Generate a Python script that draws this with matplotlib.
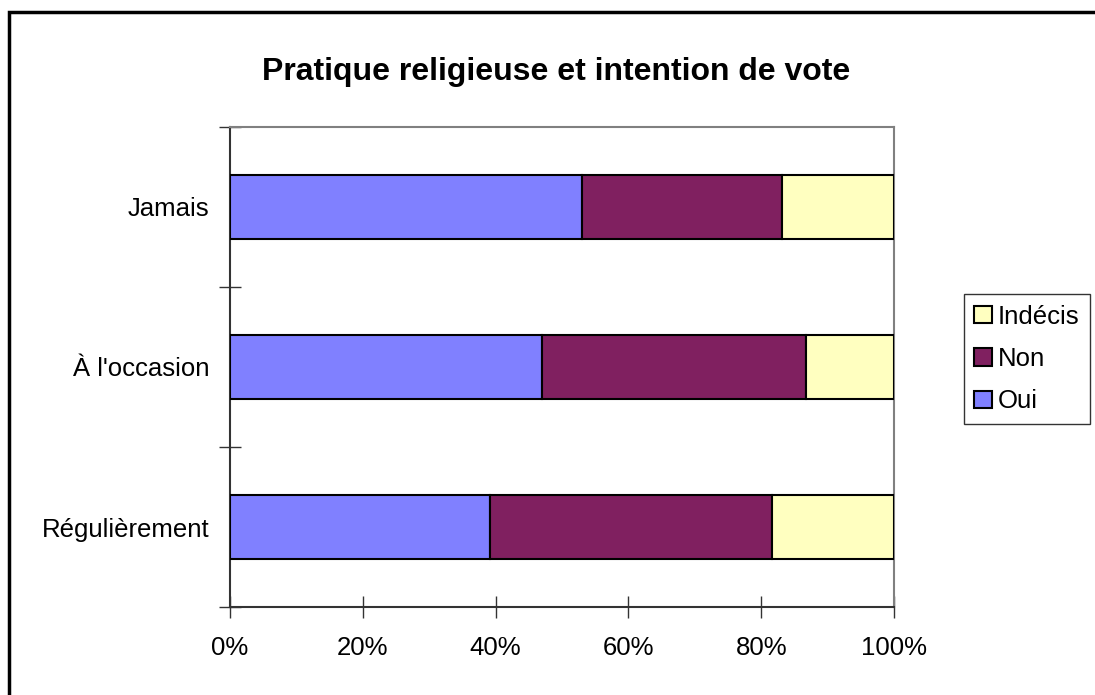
import numpy as np
import matplotlib.pyplot as plt
from matplotlib.patches import Rectangle

plt.rcParams['font.family'] = ['Liberation Sans', 'DejaVu Sans']

# Share of answers per level of religious practice (%)
categories = ["Régulièrement", "À l'occasion", "Jamais"]
oui = [39.2, 47.0, 53.0]
non = [42.4, 39.7, 30.1]
indecis = [18.4, 13.3, 16.9]
series_names = ["Oui", "Non", "Indécis"]
colors = ["#8080FF", "#802060", "#FFFFC0"]

fig = plt.figure(figsize=(10.95, 6.95), dpi=100)
ax = fig.add_axes([230 / 1095, 88 / 695, 664 / 1095, 480 / 695])

y = np.arange(len(categories))
left = np.zeros(len(categories))
for name, vals, col in zip(series_names, [oui, non, indecis], colors):
    ax.barh(y, vals, left=left, height=0.4, color=col, edgecolor="black",
            linewidth=1.5, label=name, zorder=3)
    left += np.array(vals)

ax.set_xlim(0, 100)
ax.set_ylim(-0.5, len(categories) - 0.5)

ax.set_xticks(np.arange(0, 101, 20))
ax.set_xticklabels([f"{v}%" for v in range(0, 101, 20)], fontsize=18.5)
ax.set_yticks(np.arange(-0.5, len(categories), 1.0))
ax.set_yticklabels([])
ax.set_yticks(y, minor=True)
ax.set_yticklabels(categories, minor=True, fontsize=18.5)
ax.tick_params(axis="y", which="minor", length=0, pad=15)
ax.tick_params(axis="both", which="major", direction="inout", length=16,
               width=1, color="#333333")
ax.tick_params(axis="x", pad=13)

for side in ["top", "right"]:
    ax.spines[side].set_color("#808080")
    ax.spines[side].set_linewidth(1.5)
for side in ["left", "bottom"]:
    ax.spines[side].set_color("#333333")
    ax.spines[side].set_linewidth(1.5)

fig.text(556 / 1095, 1 - 72 / 695, "Pratique religieuse et intention de vote",
         ha="center", va="center", fontsize=23, fontweight="bold")

handles, labels = ax.get_legend_handles_labels()
leg = fig.legend(handles[::-1], labels[::-1], loc="center left",
                 bbox_to_anchor=(964 / 1095, 1 - 359 / 695), fontsize=18.5,
                 frameon=True, fancybox=False, edgecolor="black",
                 handlelength=0.68, handleheight=0.68, handletextpad=0.24,
                 borderpad=0.4, labelspacing=0.72, borderaxespad=0)
leg.get_frame().set_linewidth(1)

# Outer chart border, cut at the right and bottom edges
fig.patches.append(Rectangle((9 / 1095, -0.1), 1.2, 1 - 12 / 695 + 0.1,
                             transform=fig.transFigure, fill=False,
                             edgecolor="black", linewidth=2.5))

fig.savefig("out.png", dpi=100)
